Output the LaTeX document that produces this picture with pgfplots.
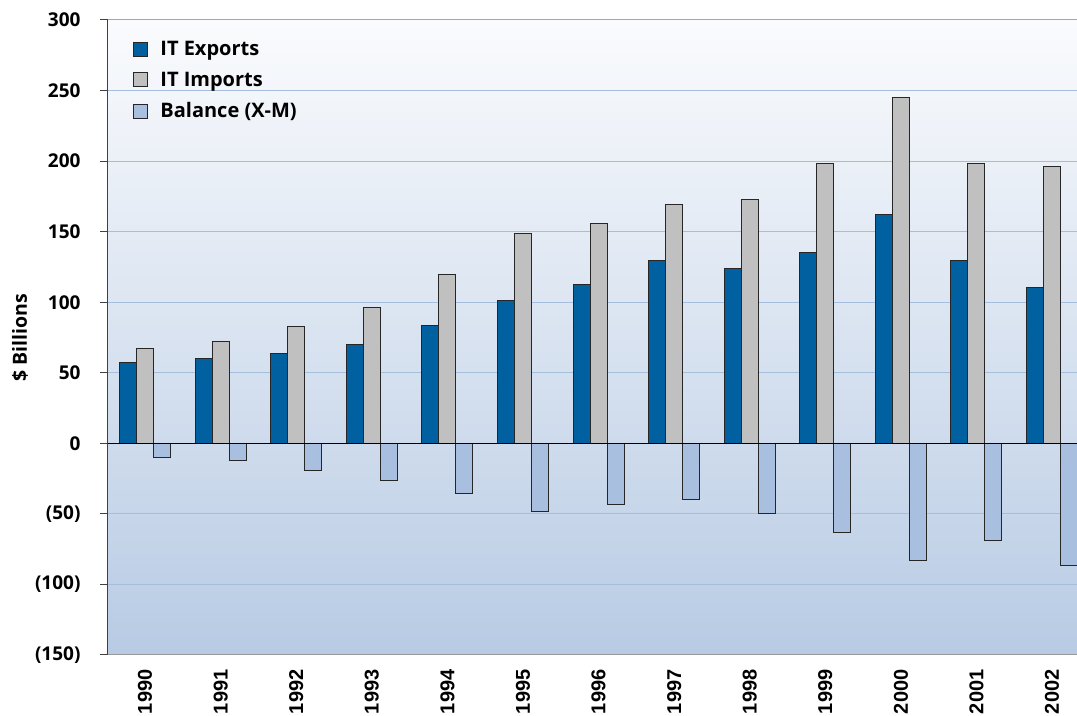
\documentclass[border=0pt]{standalone}
\usepackage{fontspec}
\setmainfont{Open Sans}
\newfontfamily\xfont{Liberation Sans}
\usepackage{pgfplots}
\pgfplotsset{compat=1.18}
\definecolor{expc}{RGB}{0,96,160}
\definecolor{impc}{RGB}{192,192,192}
\definecolor{balc}{RGB}{168,191,223}
\definecolor{gridc}{RGB}{165,190,222}
\definecolor{bgtop}{RGB}{250,251,253}
\definecolor{bgbot}{RGB}{184,203,228}
\begin{document}
\begin{tikzpicture}
\begin{axis}[
  scale only axis, width=969pt, height=635pt,
  xmin=-0.49, xmax=12.33, ymin=-150, ymax=300,
  axis background/.style={top color=bgtop, bottom color=bgbot},
  axis x line*=bottom, axis y line*=left,
  x axis line style={draw=black!40, line width=1pt, -},
  y axis line style={draw=black!75, line width=1pt, -},
  xtick={0,...,12},
  xticklabels={1990,1991,1992,1993,1994,1995,1996,1997,1998,1999,2000,2001,2002},
  xticklabel style={rotate=90, anchor=east, font=\xfont\bfseries\fontsize{20}{24}\selectfont, xshift=-3pt},
  xtick style={draw=none},
  ytick={-150,-100,-50,0,50,100,150,200,250,300},
  yticklabels={(150),(100),(50),0,50,100,150,200,250,300},
  yticklabel style={font=\bfseries\fontsize{19}{23}\selectfont, xshift=-16pt},
  ytick style={draw=black!75, line width=1pt},
  tick align=outside, major tick length=8pt,
  ymajorgrids, major grid style={draw=gridc, line width=1pt},
  ylabel={\$ Billions},
  every axis y label/.style={at={(rel axis cs:0,0.5)}, xshift=-88pt, rotate=90, anchor=center,
    font=\bfseries\fontsize{19.5}{23}\selectfont},
  ybar, bar width=0.225,
  legend style={at={(rel axis cs:0.026,0.97)}, anchor=north west, draw=none, fill=none,
    font=\bfseries\fontsize{20}{24}\selectfont, row sep=11pt, column sep=10pt, inner sep=0pt},
  legend cell align=left,
  legend image code/.code={\draw[#1, line width=1pt] (0pt,-7pt) rectangle (14pt,7pt);},
]
\addplot[fill=expc, draw=black!85, line width=1pt, bar shift=-0.225] coordinates {
(0,57.4) (1,59.8) (2,63.8) (3,70.2) (4,83.7) (5,101.5) (6,112.8) (7,129.8) (8,124.1) (9,135.5) (10,162.4) (11,129.8) (12,110.6)};
\addplot[fill=impc, draw=black!85, line width=1pt, bar shift=0] coordinates {
(0,67.4) (1,72.3) (2,83) (3,96.5) (4,119.9) (5,149) (6,156) (7,169.5) (8,173) (9,198.6) (10,245.4) (11,198.6) (12,196.5)};
\addplot[fill=balc, draw=black!85, line width=1pt, bar shift=0.225] coordinates {
(0,-10.2) (1,-12.5) (2,-19.2) (3,-26.5) (4,-35.9) (5,-48) (6,-43) (7,-40) (8,-49.5) (9,-63) (10,-83) (11,-69) (12,-86.5)};
\legend{IT Exports, IT Imports, Balance (X-M)}
\draw[black, line width=1pt] (rel axis cs:0,0.3333) -- (rel axis cs:1,0.3333);
\draw[black!35, line width=1pt] (rel axis cs:0,1) -- (rel axis cs:1,1);
\coordinate (BL) at (rel axis cs:0,0);
\coordinate (TR) at (rel axis cs:1,1);
\end{axis}
\pgfresetboundingbox
\useasboundingbox ([xshift=-108pt,yshift=-61pt]BL) rectangle ([yshift=20pt]TR);
\end{tikzpicture}
\end{document}
